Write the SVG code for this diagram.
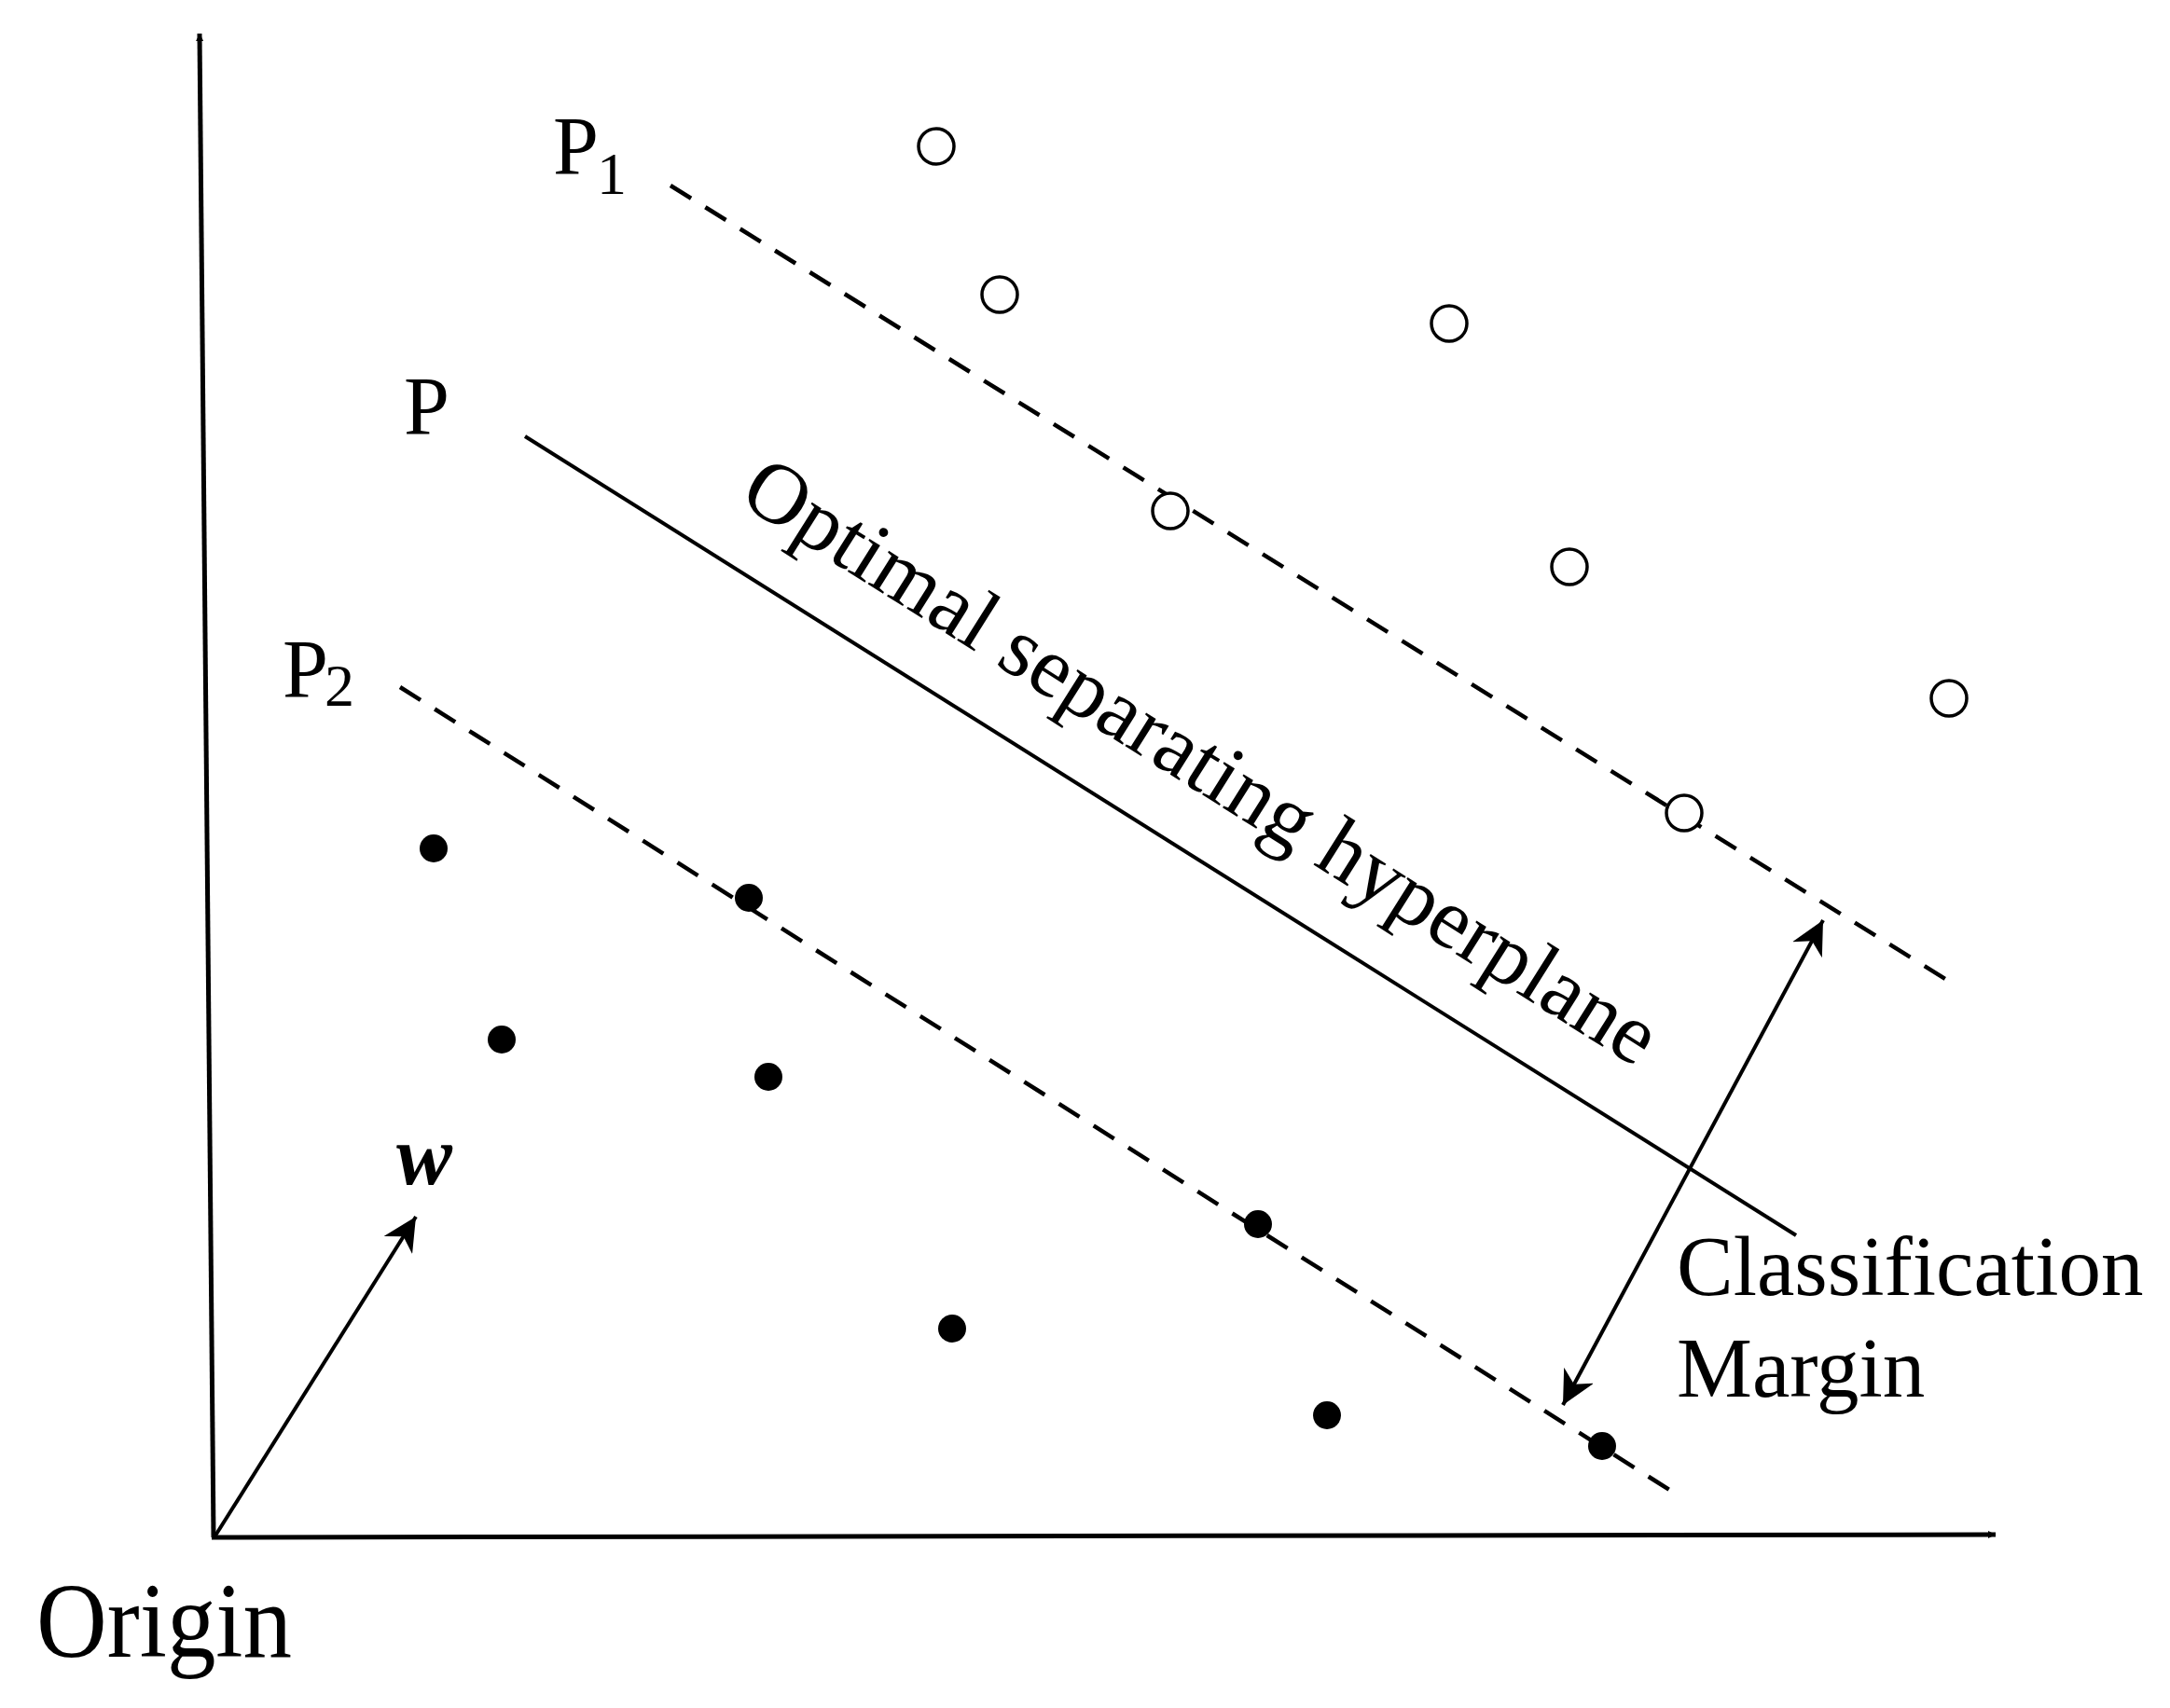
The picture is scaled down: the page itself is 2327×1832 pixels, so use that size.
<svg xmlns="http://www.w3.org/2000/svg" width="2327" height="1832" viewBox="0 0 2327 1832">
<style>
.ln{stroke:#000;stroke-width:4;fill:none}
.ds{stroke:#000;stroke-width:4.5;fill:none;stroke-dasharray:26 18}
.t{font-family:"Liberation Serif","Times New Roman",serif;fill:#000}
.oc{fill:#fff;stroke:#000;stroke-width:3.5}
.fc{fill:#000}
</style>
<defs>
<marker id="ah" viewBox="0 0 10 10" refX="10" refY="5" markerWidth="8" markerHeight="8" markerUnits="userSpaceOnUse" orient="auto-start-reverse">
<path d="M0,0 L10,5 L0,10 z" fill="#000"/>
</marker>
<marker id="ah2" viewBox="0 0 10 10" refX="10" refY="5" markerWidth="9" markerHeight="9" orient="auto-start-reverse">
<path d="M0,0 L10,5 L0,10 L3,5 z" fill="#000"/>
</marker>
</defs>
<rect width="2327" height="1832" fill="#fff"/>
<g id="connectors">
<line class="ln" x1="229" y1="1649" x2="214" y2="36" marker-end="url(#ah)" style="stroke-width:5"/>
<line class="ln" x1="227" y1="1649" x2="2140" y2="1646" marker-end="url(#ah)" style="stroke-width:5"/>
<line class="ln" x1="231" y1="1647" x2="446" y2="1305" marker-end="url(#ah2)"/>
<line class="ds" x1="719" y1="199" x2="2094" y2="1055"/>
<line class="ln" x1="563" y1="468" x2="1926" y2="1325"/>
<line class="ds" x1="429" y1="737" x2="1795" y2="1601"/>
<line class="ln" x1="1676" y1="1507" x2="1955" y2="987" marker-start="url(#ah2)" marker-end="url(#ah2)"/>
</g>
<g id="open-points">
<circle class="oc" cx="1004" cy="157" r="19"/>
<circle class="oc" cx="1072" cy="316" r="19"/>
<circle class="oc" cx="1554" cy="347" r="19"/>
<circle class="oc" cx="1255" cy="548" r="19"/>
<circle class="oc" cx="1683" cy="608" r="19"/>
<circle class="oc" cx="2090" cy="749" r="19"/>
<circle class="oc" cx="1806" cy="872" r="19"/>
</g>
<g id="filled-points">
<circle class="fc" cx="465" cy="910" r="15"/>
<circle class="fc" cx="803" cy="963" r="15"/>
<circle class="fc" cx="538" cy="1115" r="15"/>
<circle class="fc" cx="824" cy="1155" r="15"/>
<circle class="fc" cx="1349" cy="1313" r="15"/>
<circle class="fc" cx="1021" cy="1425" r="15"/>
<circle class="fc" cx="1423" cy="1518" r="15"/>
<circle class="fc" cx="1718" cy="1551" r="15"/>
</g>
<g id="labels">
<text class="t" x="593" y="186" font-size="88">P<tspan x="640" y="208" font-size="64">1</tspan></text>
<text class="t" x="433" y="465" font-size="88">P</text>
<text class="t" x="303" y="747" font-size="88">P<tspan x="348" y="757" font-size="64">2</tspan></text>
<text class="t" x="425" y="1270" font-size="90" font-weight="bold" font-style="italic">w</text>
<text class="t" x="39" y="1777" font-size="115" textLength="274" lengthAdjust="spacingAndGlyphs">Origin</text>
<text class="t" x="1798" y="1389" font-size="91">Classification</text>
<text class="t" x="1798" y="1498" font-size="91">Margin</text>
<text class="t" x="790" y="538" font-size="92" textLength="1140" lengthAdjust="spacingAndGlyphs" transform="rotate(32.2 790 538)">Optimal separating hyperplane</text>
</g>
</svg>
